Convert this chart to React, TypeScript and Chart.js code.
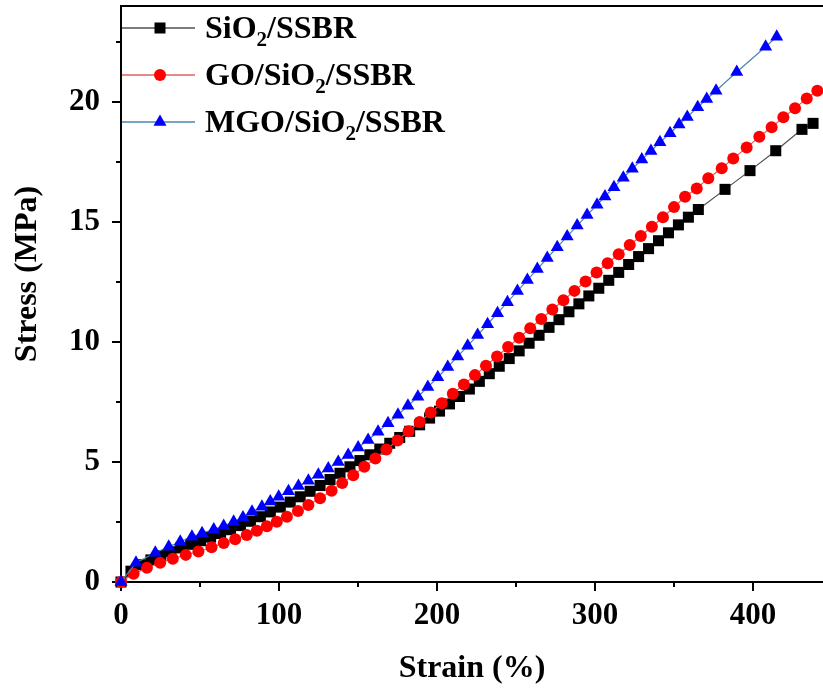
import React, { useEffect, useRef } from 'react';
import { Chart, registerables } from 'chart.js';

Chart.register(...registerables);

// ---- data (strain in %, stress in MPa) ----
const sio2Strain = [0, 6.3, 12.6, 18.9, 25.2, 31.5, 37.8, 44.1, 50.4, 56.7, 63, 69.3, 75.6, 81.9, 88.2, 94.5, 100.8, 107.1, 113.4, 119.7, 126, 132.3, 138.6, 144.9, 151.2, 157.5, 163.8, 170.1, 176.4, 182.7, 189, 195.3, 201.6, 207.9, 214.2, 220.5, 226.8, 233.1, 239.4, 245.7, 252, 258.3, 264.6, 270.9, 277.2, 283.5, 289.8, 296.1, 302.4, 308.7, 315, 321.3, 327.6, 333.9, 340.2, 346.5, 352.8, 359.1, 365.4, 382.3, 398.1, 414.4, 431, 438];
const sio2Stress = [0, 0.45, 0.72, 0.92, 1.1, 1.26, 1.42, 1.57, 1.72, 1.87, 2.02, 2.18, 2.35, 2.53, 2.72, 2.92, 3.12, 3.33, 3.55, 3.78, 4.02, 4.27, 4.53, 4.8, 5.06, 5.3, 5.54, 5.78, 6.02, 6.28, 6.55, 6.83, 7.12, 7.42, 7.73, 8.04, 8.36, 8.68, 8.99, 9.31, 9.63, 9.95, 10.28, 10.61, 10.93, 11.26, 11.59, 11.92, 12.24, 12.57, 12.9, 13.23, 13.56, 13.89, 14.22, 14.55, 14.88, 15.2, 15.52, 16.36, 17.14, 17.97, 18.86, 19.11];

const goStrain = [0, 8, 16.4, 24.8, 32.8, 41, 49, 57.3, 65, 72.3, 79.6, 86, 92.3, 98.6, 105, 112, 118.6, 126, 133.3, 140, 147, 154, 161, 168, 175, 182, 189, 196, 203, 210, 217, 224, 231, 238, 245, 252, 259, 266, 273, 280, 287, 294, 301, 308, 315, 322, 329, 336, 343, 350, 357, 364.4, 371.7, 380.2, 387.5, 396, 404, 411.8, 419.2, 426.6, 434, 440.7];
const goStress = [0, 0.34, 0.59, 0.8, 0.97, 1.13, 1.27, 1.45, 1.62, 1.78, 1.96, 2.14, 2.32, 2.51, 2.72, 2.96, 3.21, 3.49, 3.8, 4.12, 4.45, 4.8, 5.15, 5.52, 5.9, 6.28, 6.67, 7.06, 7.45, 7.84, 8.23, 8.62, 9.01, 9.4, 9.79, 10.18, 10.57, 10.96, 11.35, 11.74, 12.13, 12.52, 12.9, 13.28, 13.66, 14.04, 14.42, 14.8, 15.2, 15.62, 16.05, 16.4, 16.82, 17.24, 17.65, 18.1, 18.55, 18.95, 19.36, 19.74, 20.15, 20.47];

const mgoStrain = [0, 9.5, 21.7, 30.2, 37.5, 44.9, 51.3, 58.7, 65, 71.3, 77.2, 82.9, 89.2, 94.5, 99.8, 106, 112.3, 118.6, 124.9, 131.2, 137.5, 143.8, 150.1, 156.4, 162.7, 169, 175.3, 181.6, 187.9, 194.2, 200.5, 206.8, 213.1, 219.4, 225.7, 232, 238.3, 244.6, 250.9, 257.2, 263.5, 269.8, 276.1, 282.4, 288.7, 295, 301.3, 306.3, 312, 317.9, 323.6, 329.6, 335.4, 341.1, 347.5, 353.2, 358.4, 365, 370.7, 376.6, 389.7, 408, 415];
const mgoStress = [0, 0.8, 1.22, 1.47, 1.68, 1.89, 2.03, 2.19, 2.33, 2.51, 2.69, 2.93, 3.14, 3.35, 3.55, 3.78, 4.0, 4.22, 4.47, 4.73, 5.0, 5.29, 5.6, 5.92, 6.26, 6.61, 6.97, 7.34, 7.72, 8.12, 8.53, 8.96, 9.4, 9.84, 10.29, 10.74, 11.2, 11.66, 12.12, 12.58, 13.04, 13.5, 13.95, 14.4, 14.85, 15.29, 15.72, 16.06, 16.45, 16.84, 17.22, 17.6, 17.96, 18.32, 18.7, 19.06, 19.38, 19.78, 20.12, 20.47, 21.25, 22.3, 22.72];

const xMinorTicks = [50, 150, 250, 350];
const yMinorTicks = [2.5, 7.5, 12.5, 17.5, 22.5];

const seriesNames = [
  ['SiO', '2', '/SSBR'],
  ['GO/SiO', '2', '/SSBR'],
  ['MGO/SiO', '2', '/SSBR'],
];
const markerColors = ['#000000', '#ff0000', '#0000ff'];
const lineColors = ['#505050', '#e06060', '#4a86b0'];
const markerStyles = ['rect', 'circle', 'triangle'];

const xTitle = 'Strain (%)';
const yTitle = 'Stress (MPa)';

const FONT = '"Liberation Serif", "Times New Roman", serif';

function drawMarker(ctx: CanvasRenderingContext2D, style: string, x: number, y: number, color: string) {
  ctx.fillStyle = color;
  ctx.beginPath();
  if (style === 'rect') {
    const s = 5.5;
    ctx.rect(x - s, y - s, 2 * s, 2 * s);
  } else if (style === 'circle') {
    ctx.arc(x, y, 6, 0, Math.PI * 2);
  } else {
    const r = 7.5;
    ctx.moveTo(x, y - r);
    ctx.lineTo(x + r * Math.sin((2 * Math.PI) / 3), y - r * Math.cos((2 * Math.PI) / 3));
    ctx.lineTo(x + r * Math.sin((4 * Math.PI) / 3), y - r * Math.cos((4 * Math.PI) / 3));
    ctx.closePath();
  }
  ctx.fill();
}

const extrasPlugin = {
  id: 'extras',
  afterDraw(chart: any) {
    const ctx: CanvasRenderingContext2D = chart.ctx;
    const { left, right, top, bottom } = chart.chartArea;
    const xs = chart.scales.x;
    const ys = chart.scales.y;
    ctx.save();
    ctx.strokeStyle = '#000';
    ctx.lineWidth = 2;
    // top frame line
    ctx.beginPath();
    ctx.moveTo(left - 1, top);
    ctx.lineTo(right, top);
    ctx.stroke();
    // minor ticks
    xMinorTicks.forEach((v) => {
      const px = Math.round(xs.getPixelForValue(v));
      ctx.beginPath();
      ctx.moveTo(px, bottom);
      ctx.lineTo(px, bottom + 5);
      ctx.stroke();
    });
    yMinorTicks.forEach((v) => {
      const py = Math.round(ys.getPixelForValue(v));
      ctx.beginPath();
      ctx.moveTo(left - 5, py);
      ctx.lineTo(left, py);
      ctx.stroke();
    });
    // y axis title
    ctx.save();
    ctx.translate(28, (top + bottom) / 2 - 20);
    ctx.rotate(-Math.PI / 2);
    ctx.font = `bold 32px ${FONT}`;
    ctx.textAlign = 'center';
    ctx.textBaseline = 'middle';
    ctx.fillStyle = '#000';
    ctx.fillText(yTitle, 0, 0);
    ctx.restore();
    // legend
    seriesNames.forEach((parts, i) => {
      const rowY = top + 22 + i * 47;
      ctx.strokeStyle = lineColors[i];
      ctx.lineWidth = 1.3;
      ctx.beginPath();
      ctx.moveTo(left + 1, rowY);
      ctx.lineTo(left + 74, rowY);
      ctx.stroke();
      drawMarker(ctx, markerStyles[i], left + 39, rowY, markerColors[i]);
      ctx.fillStyle = '#000';
      ctx.textAlign = 'left';
      ctx.textBaseline = 'alphabetic';
      let tx = left + 84;
      const base = rowY + 10;
      ctx.font = `bold 32px ${FONT}`;
      ctx.fillText(parts[0], tx, base);
      tx += ctx.measureText(parts[0]).width;
      ctx.font = `bold 21px ${FONT}`;
      ctx.fillText(parts[1], tx, base + 8);
      tx += ctx.measureText(parts[1]).width;
      ctx.font = `bold 32px ${FONT}`;
      ctx.fillText(parts[2], tx, base);
    });
    ctx.restore();
  },
};

function makeData(xs: number[], ys: number[]) {
  return xs.map((x, i) => ({ x, y: ys[i] }));
}

export default function App() {
  const ref = useRef<HTMLCanvasElement | null>(null);
  useEffect(() => {
    if (!ref.current) return;
    const sets = [
      { x: sio2Strain, y: sio2Stress, order: 3 },
      { x: goStrain, y: goStress, order: 2 },
      { x: mgoStrain, y: mgoStress, order: 1 },
    ];
    const chart = new Chart(ref.current, {
      type: 'line',
      data: {
        datasets: sets.map((s, i) => ({
          label: seriesNames[i].join(''),
          data: makeData(s.x, s.y),
          order: s.order,
          borderColor: lineColors[i],
          borderWidth: 1.2,
          backgroundColor: markerColors[i],
          pointBackgroundColor: markerColors[i],
          pointBorderColor: markerColors[i],
          pointBorderWidth: 0,
          pointStyle: markerStyles[i] as any,
          pointRadius: i === 0 ? 7.8 : i === 1 ? 6 : 7.5,
          tension: 0,
          fill: false,
          clip: false as any,
        })),
      },
      options: {
        responsive: false,
        animation: false,
        devicePixelRatio: 1,
        layout: { autoPadding: false, padding: { top: 6, right: 0, left: 0, bottom: 0 } },
        plugins: { legend: { display: false }, tooltip: { enabled: false } },
        scales: {
          x: {
            type: 'linear',
            min: 0,
            max: 444.3,
            position: 'bottom',
            afterFit: (scale: any) => {
              scale.height = 109;
              scale.paddingLeft = 0;
              scale.paddingRight = 0;
            },
            ticks: {
              stepSize: 100,
              includeBounds: false,
              maxRotation: 0,
              padding: 6,
              color: '#000',
              font: { family: FONT, size: 31, weight: 'bold' },
            },
            grid: { drawOnChartArea: false, tickLength: 9, color: '#000', lineWidth: 2 },
            border: { color: '#000', width: 2 },
            title: {
              display: true,
              text: xTitle,
              color: '#000',
              font: { family: FONT, size: 32, weight: 'bold' },
              padding: { top: 0, bottom: 3 },
            },
          },
          y: {
            type: 'linear',
            min: 0,
            max: 24,
            afterFit: (scale: any) => {
              scale.width = 121;
              scale.paddingTop = 0;
              scale.paddingBottom = 0;
            },
            ticks: {
              stepSize: 5,
              includeBounds: false,
              padding: 12,
              color: '#000',
              font: { family: FONT, size: 31, weight: 'bold' },
            },
            grid: { drawOnChartArea: false, tickLength: 9, color: '#000', lineWidth: 2 },
            border: { color: '#000', width: 2 },
          },
        },
      } as any,
      plugins: [extrasPlugin],
    });
    return () => chart.destroy();
  }, []);
  return (
    <div style={{ position: 'fixed', left: 0, top: 0, width: 823, height: 691, background: '#fff' }}>
      <canvas ref={ref} width={823} height={691} style={{ display: 'block', width: 823, height: 691 }} />
    </div>
  );
}
